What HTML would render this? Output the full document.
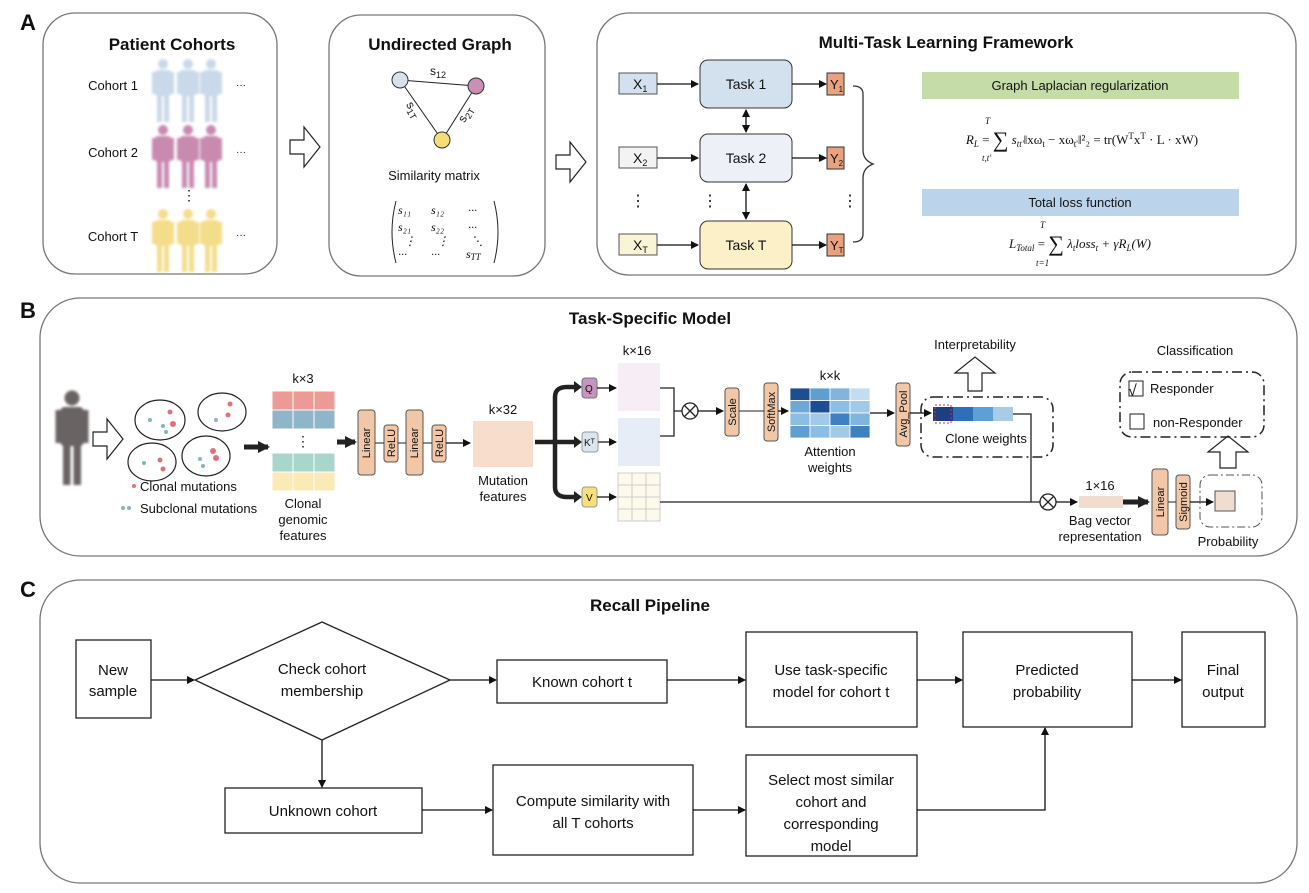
<!DOCTYPE html>
<html><head><meta charset="utf-8"><style>
body{margin:0;background:#fff}
svg{display:block;font-family:"Liberation Sans",sans-serif}
</style></head><body>
<svg width="1309" height="893" viewBox="0 0 1309 893" xmlns="http://www.w3.org/2000/svg">
<defs>
<marker id="ar" markerWidth="8" markerHeight="8" refX="7" refY="4" orient="auto" markerUnits="userSpaceOnUse"><path d="M0,0 L8,4 L0,8 z" fill="#111"/></marker>
<marker id="ar2" markerWidth="8" markerHeight="8" refX="1" refY="4" orient="auto" markerUnits="userSpaceOnUse"><path d="M8,0 L0,4 L8,8 z" fill="#111"/></marker>
<marker id="tk" markerWidth="14" markerHeight="14" refX="10" refY="7" orient="auto" markerUnits="userSpaceOnUse"><path d="M0,1 L12,7 L0,13 z" fill="#222"/></marker>
<filter id="bl"><feGaussianBlur stdDeviation="1.3"/></filter>
<g id="man"><circle cx="0" cy="-28" r="5"/><rect x="-8" y="-22" width="16" height="26" rx="3"/><rect x="-6" y="2" width="5" height="28"/><rect x="1" y="2" width="5" height="28"/><rect x="-11" y="-20" width="4" height="22"/><rect x="7" y="-20" width="4" height="22"/></g>
</defs>
<g font-size="13" fill="#111">
<!-- Panel A -->
<text x="20" y="30" font-size="22" font-weight="bold">A</text>
<rect x="43" y="13" width="234" height="261" rx="32" fill="none" stroke="#777" stroke-width="1.3"/>
<text x="172" y="50" font-size="17" font-weight="bold" text-anchor="middle">Patient Cohorts</text>
<text x="113" y="90" text-anchor="middle">Cohort 1</text>
<text x="113" y="157" text-anchor="middle">Cohort 2</text>
<text x="113" y="241" text-anchor="middle">Cohort T</text>
<g filter="url(#bl)">
<g fill="#c9d9ea"><use href="#man" x="163" y="92"/><use href="#man" x="188" y="92"/><use href="#man" x="211" y="92"/></g>
<g fill="#c98ab0"><use href="#man" x="163" y="158"/><use href="#man" x="188" y="158"/><use href="#man" x="211" y="158"/></g>
<g fill="#f4dd8a"><use href="#man" x="163" y="242"/><use href="#man" x="188" y="242"/><use href="#man" x="211" y="242"/></g>
</g>
<text x="236" y="88" font-size="10">···</text><text x="236" y="155" font-size="10">···</text><text x="236" y="238" font-size="10">···</text>
<text x="189" y="200" font-size="14" text-anchor="middle">⋮</text>
<path d="M290,140 h14 v-13 l16,20 l-16,20 v-13 h-14 z" fill="#fff" stroke="#222" stroke-width="1.2"/>
<rect x="329" y="15" width="216" height="261" rx="32" fill="none" stroke="#777" stroke-width="1.3"/>
<text x="440" y="50" font-size="17" font-weight="bold" text-anchor="middle">Undirected Graph</text>
<line x1="400" y1="80" x2="476" y2="86" stroke="#222"/><line x1="400" y1="80" x2="442" y2="140" stroke="#222"/><line x1="476" y1="86" x2="442" y2="140" stroke="#222"/>
<circle cx="400" cy="80" r="8" fill="#d8e2ee" stroke="#333"/><circle cx="476" cy="86" r="8" fill="#c790b4" stroke="#333"/><circle cx="442" cy="140" r="8" fill="#f6dc7a" stroke="#333"/>
<text x="430" y="75" font-size="12">s<tspan font-size="9" dy="3">12</tspan></text>
<text x="405" y="112" font-size="12" transform="rotate(60 412 109)">s<tspan font-size="9" dy="3">1T</tspan></text>
<text x="458" y="120" font-size="12" transform="rotate(-60 464 116)">s<tspan font-size="9" dy="3">2T</tspan></text>
<text x="434" y="180" text-anchor="middle">Similarity matrix</text>
<g font-family="Liberation Serif,serif" font-style="italic" font-size="12">
<text x="398" y="214">s₁₁</text><text x="431" y="214">s₁₂</text><text x="468" y="214">···</text>
<text x="398" y="231">s₂₁</text><text x="431" y="231">s₂₂</text><text x="468" y="231">···</text>
<text x="404" y="245">⋮</text><text x="437" y="245">⋮</text><text x="471" y="245">⋱</text>
<text x="398" y="258">···</text><text x="431" y="258">···</text><text x="466" y="258">s<tspan font-size="9" dy="2">TT</tspan></text>
</g>
<path d="M396,201 q-8,31 0,62 M494,201 q8,31 0,62" fill="none" stroke="#222"/>
<path d="M556,155 h14 v-13 l16,20 l-16,20 v-13 h-14 z" fill="#fff" stroke="#222" stroke-width="1.2"/>
<rect x="597" y="13" width="699" height="262" rx="32" fill="none" stroke="#777" stroke-width="1.3"/>
<text x="946" y="48" font-size="17" font-weight="bold" text-anchor="middle">Multi-Task Learning Framework</text>
<rect x="619" y="73" width="38" height="21" fill="#d2e0f0" stroke="#555"/><text x="633" y="89" font-size="14">X<tspan font-size="9" dy="3">1</tspan></text>
<rect x="619" y="147" width="38" height="21" fill="#f3f3f3" stroke="#555"/><text x="633" y="163" font-size="14">X<tspan font-size="9" dy="3">2</tspan></text>
<rect x="619" y="234" width="38" height="21" fill="#fbf3d5" stroke="#555"/><text x="633" y="250" font-size="14">X<tspan font-size="9" dy="3">T</tspan></text>
<rect x="700" y="60" width="92" height="48" rx="8" fill="#d3e1ef" stroke="#333"/><text x="746" y="89" text-anchor="middle" font-size="14">Task 1</text>
<rect x="700" y="134" width="92" height="48" rx="8" fill="#eef0f8" stroke="#333"/><text x="746" y="163" text-anchor="middle" font-size="14">Task 2</text>
<rect x="700" y="221" width="92" height="48" rx="8" fill="#fbf0c8" stroke="#333"/><text x="746" y="250" text-anchor="middle" font-size="14">Task T</text>
<g stroke="#111" stroke-width="1.3" marker-end="url(#ar)">
<line x1="657" y1="84" x2="698" y2="84"/><line x1="657" y1="158" x2="698" y2="158"/><line x1="657" y1="245" x2="698" y2="245"/>
<line x1="792" y1="84" x2="826" y2="84"/><line x1="792" y1="158" x2="826" y2="158"/><line x1="792" y1="245" x2="826" y2="245"/>
<line x1="746" y1="110" x2="746" y2="132" marker-start="url(#ar2)"/><line x1="746" y1="184" x2="746" y2="219" marker-start="url(#ar2)"/>
</g>
<g fill="#e9a27f" stroke="#333"><rect x="827" y="73" width="17" height="22"/><rect x="827" y="147" width="17" height="22"/><rect x="827" y="234" width="17" height="22"/></g>
<text x="830" y="89" font-size="13">Y<tspan font-size="8" dy="3">1</tspan></text><text x="830" y="163" font-size="13">Y<tspan font-size="8" dy="3">2</tspan></text><text x="830" y="250" font-size="13">Y<tspan font-size="8" dy="3">T</tspan></text>
<text x="638" y="206" font-size="16" text-anchor="middle">⋮</text><text x="710" y="206" font-size="16" text-anchor="middle">⋮</text><text x="850" y="206" font-size="16" text-anchor="middle">⋮</text>
<path d="M853,86 q10,0 10,8 v56 q0,10 10,14 q-10,4 -10,14 v56 q0,8 -10,8" fill="none" stroke="#333" stroke-width="1.3"/>
<rect x="922" y="72" width="317" height="27" fill="#c6dca8"/><text x="1080" y="90" text-anchor="middle">Graph Laplacian regularization</text>
<rect x="922" y="189" width="317" height="27" fill="#bcd3ec"/><text x="1080" y="207" text-anchor="middle">Total loss function</text>
<g font-family="Liberation Serif,serif" font-size="13">
<text x="1082" y="144" text-anchor="middle"><tspan font-style="italic">R<tspan font-size="9" dy="3">L</tspan></tspan><tspan dy="-3"> = </tspan><tspan font-size="22" dy="3">∑</tspan><tspan font-style="italic" dy="-3"> s<tspan font-size="9" dy="3">tt'</tspan></tspan><tspan dy="-3">‖xω<tspan font-size="9" dy="3">t</tspan></tspan><tspan dy="-3"> − xω<tspan font-size="9" dy="3">t'</tspan></tspan><tspan dy="-3">‖²₂ = tr(W<tspan font-size="9" dy="-5">T</tspan></tspan><tspan dy="5">x<tspan font-size="9" dy="-5">T</tspan></tspan><tspan dy="5"> · L · xW)</tspan></text>
<text x="985" y="124" font-size="9" font-style="italic">T</text><text x="982" y="161" font-size="9" font-style="italic">t,t'</text>
<text x="1080" y="248" text-anchor="middle" font-style="italic">L<tspan font-size="9" dy="3">Total</tspan><tspan dy="-3" font-style="normal"> = </tspan><tspan font-size="22" dy="3" font-style="normal">∑</tspan><tspan dy="-3"> λ<tspan font-size="9" dy="3">t</tspan></tspan><tspan dy="-3">loss<tspan font-size="9" dy="3">t</tspan></tspan><tspan dy="-3"> + γR<tspan font-size="9" dy="3">L</tspan></tspan><tspan dy="-3">(W)</tspan></text>
<text x="1040" y="228" font-size="9" font-style="italic">T</text><text x="1036" y="266" font-size="9" font-style="italic">t=1</text>
</g>

<!-- Panel B -->
<text x="20" y="318" font-size="22" font-weight="bold">B</text>
<rect x="40" y="298" width="1257" height="258" rx="40" fill="none" stroke="#777" stroke-width="1.3"/>
<text x="650" y="324" font-size="17" font-weight="bold" text-anchor="middle">Task-Specific Model</text>
<g fill="#6b6464" filter="url(#bl)"><use href="#man" x="72" y="440" transform="translate(-36,-220) scale(1.5)"/></g>
<path d="M93,432 h14 v-13 l16,20 l-16,20 v-13 h-14 z" fill="#fff" stroke="#222" stroke-width="1.2"/>
<g fill="none" stroke="#222" stroke-width="1.2"><ellipse cx="160" cy="420" rx="25" ry="20"/><ellipse cx="222" cy="412" rx="24" ry="19"/><ellipse cx="152" cy="462" rx="24" ry="19"/><ellipse cx="206" cy="456" rx="24" ry="20"/></g>
<g fill="#e0707a"><circle cx="170" cy="412" r="2.5"/><circle cx="173" cy="424" r="3"/><circle cx="230" cy="404" r="2.5"/><circle cx="228" cy="415" r="2.5"/><circle cx="160" cy="460" r="2.5"/><circle cx="163" cy="469" r="2.5"/><circle cx="213" cy="451" r="3"/><circle cx="216" cy="458" r="3"/></g>
<g fill="#7fb8bb"><circle cx="150" cy="420" r="2"/><circle cx="163" cy="426" r="2"/><circle cx="166" cy="432" r="2"/><circle cx="216" cy="420" r="2"/><circle cx="144" cy="463" r="2"/><circle cx="200" cy="459" r="2"/><circle cx="203" cy="466" r="2"/></g>
<circle cx="134" cy="486" r="2" fill="#e0707a"/><text x="140" y="491">Clonal mutations</text>
<circle cx="123" cy="508" r="2" fill="#7fb8bb"/><circle cx="129" cy="508" r="2" fill="#7fb8bb"/><text x="140" y="513">Subclonal mutations</text>
<line x1="244" y1="447" x2="268" y2="447" stroke="#222" stroke-width="5" marker-end="url(#tk)"/>
<text x="303" y="383" text-anchor="middle">k×3</text>
<g stroke="#fff"><rect x="272" y="391" width="63" height="19" fill="#ec9a95"/><rect x="272" y="410" width="63" height="19" fill="#8fb5c9"/><rect x="272" y="453" width="63" height="19" fill="#a8d6cc"/><rect x="272" y="472" width="63" height="19" fill="#fbe9b6"/>
<line x1="293" y1="391" x2="293" y2="491"/><line x1="314" y1="391" x2="314" y2="491"/></g>
<text x="303" y="446" font-size="14" text-anchor="middle">⋮</text>
<text x="303" y="508" text-anchor="middle">Clonal</text><text x="303" y="524" text-anchor="middle">genomic</text><text x="303" y="540" text-anchor="middle">features</text>
<line x1="337" y1="442" x2="355" y2="442" stroke="#222" stroke-width="5" marker-end="url(#tk)"/>
<g fill="#f2c7a8" stroke="#555"><rect x="358" y="410" width="17" height="65" rx="3"/><rect x="384" y="425" width="14" height="37" rx="3"/><rect x="406" y="410" width="17" height="65" rx="3"/><rect x="432" y="425" width="14" height="37" rx="3"/></g>
<g stroke="#222"><line x1="375" y1="443" x2="384" y2="443"/><line x1="398" y1="443" x2="406" y2="443"/><line x1="423" y1="443" x2="432" y2="443"/></g>
<g font-size="11" text-anchor="middle"><text transform="translate(370,443) rotate(-90)">Linear</text><text transform="translate(395,443) rotate(-90)">ReLU</text><text transform="translate(418,443) rotate(-90)">Linear</text><text transform="translate(443,443) rotate(-90)">ReLU</text></g>
<line x1="446" y1="443" x2="470" y2="443" stroke="#111" stroke-width="1.3" marker-end="url(#ar)"/>
<text x="503" y="414" text-anchor="middle">k×32</text>
<rect x="473" y="421" width="60" height="46" fill="#f8dccc"/>
<text x="503" y="485" text-anchor="middle">Mutation</text><text x="503" y="501" text-anchor="middle">features</text>
<path d="M535,442 h20 M555,442 v-45 q0,-10 12,-10 h8 M555,442 h20 M555,442 v45 q0,10 12,10 h8" fill="none" stroke="#222" stroke-width="4.5"/>
<path d="M574,381 l8,6 l-8,6z M574,436 l8,6 l-8,6z M574,491 l8,6 l-8,6z" fill="#222"/>
<rect x="582" y="378" width="15" height="20" rx="3" fill="#c794c0" stroke="#777"/><text x="585" y="392" font-size="10">Q</text>
<rect x="582" y="432" width="16" height="20" rx="3" fill="#dbe5f0" stroke="#999"/><text x="584" y="446" font-size="10">Kᵀ</text>
<rect x="582" y="487" width="15" height="20" rx="3" fill="#f8df7a" stroke="#999"/><text x="586" y="501" font-size="10">V</text>
<g stroke="#111" stroke-width="1.3" marker-end="url(#ar)"><line x1="597" y1="388" x2="616" y2="388"/><line x1="598" y1="442" x2="616" y2="442"/><line x1="597" y1="497" x2="616" y2="497"/></g>
<text x="637" y="355" text-anchor="middle">k×16</text>
<rect x="618" y="363" width="42" height="48" fill="#f6eef4"/>
<rect x="618" y="418" width="42" height="48" fill="#e6edf6"/>
<g fill="#fdfaeb" stroke="#ccc"><rect x="618" y="473" width="42" height="48"/><line x1="632" y1="473" x2="632" y2="521"/><line x1="646" y1="473" x2="646" y2="521"/><line x1="618" y1="485" x2="660" y2="485"/><line x1="618" y1="497" x2="660" y2="497"/><line x1="618" y1="509" x2="660" y2="509"/></g>
<path d="M660,388 h14 v48 h-14 M674,411 h8" fill="none" stroke="#222" stroke-width="1.3"/>
<circle cx="690" cy="411" r="8" fill="#fff" stroke="#222" stroke-width="1.3"/><path d="M684.5,405.5 l11,11 M695.5,405.5 l-11,11" stroke="#222" stroke-width="1.3"/>
<line x1="698" y1="411" x2="723" y2="411" stroke="#111" stroke-width="1.3" marker-end="url(#ar)"/>
<g fill="#f2c7a8" stroke="#555"><rect x="725" y="388" width="14" height="48" rx="3"/><rect x="764" y="383" width="14" height="58" rx="3"/></g>
<g font-size="11" text-anchor="middle"><text transform="translate(736,412) rotate(-90)">Scale</text><text transform="translate(775,412) rotate(-90)">SoftMax</text></g>
<line x1="739" y1="411" x2="764" y2="411" stroke="#222"/>
<line x1="778" y1="411" x2="788" y2="411" stroke="#111" stroke-width="1.3" marker-end="url(#ar)"/>
<text x="830" y="380" text-anchor="middle">k×k</text>
<g stroke="#fff" stroke-width="0.8">
<rect x="790" y="388" width="20" height="12.5" fill="#1d4e8f"/><rect x="810" y="388" width="20" height="12.5" fill="#5f9fd0"/><rect x="830" y="388" width="20" height="12.5" fill="#82b5dd"/><rect x="850" y="388" width="20" height="12.5" fill="#c4dcef"/>
<rect x="790" y="400.5" width="20" height="12.5" fill="#6fa8d6"/><rect x="810" y="400.5" width="20" height="12.5" fill="#1d4e8f"/><rect x="830" y="400.5" width="20" height="12.5" fill="#8cbde2"/><rect x="850" y="400.5" width="20" height="12.5" fill="#a3c9e8"/>
<rect x="790" y="413" width="20" height="12.5" fill="#8cbde2"/><rect x="810" y="413" width="20" height="12.5" fill="#a3c9e8"/><rect x="830" y="413" width="20" height="12.5" fill="#3f80c0"/><rect x="850" y="413" width="20" height="12.5" fill="#82b5dd"/>
<rect x="790" y="425.5" width="20" height="12.5" fill="#5f9fd0"/><rect x="810" y="425.5" width="20" height="12.5" fill="#8cbde2"/><rect x="830" y="425.5" width="20" height="12.5" fill="#a3c9e8"/><rect x="850" y="425.5" width="20" height="12.5" fill="#3f80c0"/>
</g>
<text x="830" y="456" text-anchor="middle">Attention</text><text x="830" y="472" text-anchor="middle">weights</text>
<line x1="870" y1="413" x2="894" y2="413" stroke="#111" stroke-width="1.3" marker-end="url(#ar)"/>
<rect x="896" y="383" width="14" height="63" rx="3" fill="#f2c7a8" stroke="#555"/><text transform="translate(907,414) rotate(-90)" font-size="11" text-anchor="middle">Avg_Pool</text>
<line x1="910" y1="413" x2="931" y2="413" stroke="#111" stroke-width="1.3" marker-end="url(#ar)"/>
<rect x="921" y="397" width="132" height="60" rx="12" fill="none" stroke="#222" stroke-width="1.5" stroke-dasharray="10,4,2,4"/>
<rect x="933" y="407" width="20" height="14" fill="#1d3f80"/><rect x="953" y="407" width="20" height="14" fill="#2f6fb8"/><rect x="973" y="407" width="20" height="14" fill="#5ea0d6"/><rect x="993" y="407" width="20" height="14" fill="#a8cbe8"/>
<rect x="935" y="405" width="16" height="18" fill="none" stroke="#d03050" stroke-dasharray="2,2"/>
<text x="986" y="443" text-anchor="middle">Clone weights</text>
<text x="975" y="349" text-anchor="middle">Interpretability</text>
<path d="M968,391 v-18 h-13 l20,-16 l20,16 h-13 v18 z" fill="#fff" stroke="#222" stroke-width="1.2"/>
<path d="M1013,414 h18 v88 M660,502 h380" fill="none" stroke="#222" stroke-width="1.3"/>
<circle cx="1048" cy="502" r="8" fill="#fff" stroke="#222" stroke-width="1.3"/><path d="M1042.5,496.5 l11,11 M1053.5,496.5 l-11,11" stroke="#222" stroke-width="1.3"/>
<line x1="1056" y1="502" x2="1077" y2="502" stroke="#111" stroke-width="1.3" marker-end="url(#ar)"/>
<text x="1100" y="490" text-anchor="middle">1×16</text>
<rect x="1079" y="496" width="44" height="12" fill="#f1ddd0"/>
<line x1="1123" y1="502" x2="1148" y2="502" stroke="#222" stroke-width="5" marker-end="url(#tk)"/>
<text x="1100" y="525" text-anchor="middle">Bag vector</text><text x="1100" y="541" text-anchor="middle">representation</text>
<g fill="#f2c7a8" stroke="#555"><rect x="1152" y="469" width="16" height="66" rx="3"/><rect x="1176" y="475" width="14" height="54" rx="3"/></g>
<g font-size="11" text-anchor="middle"><text transform="translate(1164,502) rotate(-90)">Linear</text><text transform="translate(1187,502) rotate(-90)">Sigmoid</text></g>
<line x1="1168" y1="502" x2="1176" y2="502" stroke="#222"/>
<line x1="1190" y1="502" x2="1213" y2="502" stroke="#111" stroke-width="1.3" marker-end="url(#ar)"/>
<rect x="1200" y="475" width="62" height="52" rx="10" fill="none" stroke="#555" stroke-dasharray="8,3,2,3"/>
<rect x="1215" y="491" width="20" height="20" fill="#f1ddd0" stroke="#555"/>
<text x="1228" y="546" text-anchor="middle">Probability</text>
<path d="M1220,468 v-16 h-12 l20,-16 l20,16 h-12 v16 z" fill="#fff" stroke="#222" stroke-width="1.2"/>
<text x="1195" y="355" text-anchor="middle">Classification</text>
<rect x="1120" y="372" width="144" height="65" rx="12" fill="none" stroke="#222" stroke-width="1.5" stroke-dasharray="10,4,2,4"/>
<rect x="1129" y="381" width="14" height="15" fill="none" stroke="#222"/><text x="1128" y="396" font-size="16">√</text><text x="1150" y="393">Responder</text>
<rect x="1130" y="414" width="14" height="15" fill="none" stroke="#222"/><text x="1153" y="427">non-Responder</text>

<!-- Panel C -->
<text x="20" y="597" font-size="22" font-weight="bold">C</text>
<rect x="40" y="580" width="1257" height="303" rx="40" fill="none" stroke="#777" stroke-width="1.3"/>
<text x="650" y="611" font-size="17" font-weight="bold" text-anchor="middle">Recall Pipeline</text>
<g fill="#fff" stroke="#222" stroke-width="1.3">
<rect x="76" y="640" width="75" height="78"/>
<path d="M195,680 L322,622 L450,680 L322,740 z"/>
<rect x="497" y="660" width="170" height="43"/>
<rect x="746" y="632" width="171" height="95"/>
<rect x="963" y="632" width="169" height="95"/>
<rect x="1182" y="632" width="83" height="95"/>
<rect x="225" y="788" width="197" height="45"/>
<rect x="493" y="765" width="200" height="90"/>
<rect x="746" y="755" width="171" height="101"/>
</g>
<g font-size="15" text-anchor="middle">
<text x="113" y="675">New</text><text x="113" y="696">sample</text>
<text x="322" y="674">Check cohort</text><text x="322" y="696">membership</text>
<text x="582" y="687">Known cohort t</text>
<text x="831" y="675">Use task-specific</text><text x="831" y="697">model for cohort t</text>
<text x="1047" y="675">Predicted</text><text x="1047" y="697">probability</text>
<text x="1223" y="675">Final</text><text x="1223" y="697">output</text>
<text x="323" y="816">Unknown cohort</text>
<text x="593" y="806">Compute similarity with</text><text x="593" y="828">all T cohorts</text>
<text x="831" y="785">Select most similar</text><text x="831" y="807">cohort and</text><text x="831" y="829">corresponding</text><text x="831" y="851">model</text>
</g>
<g stroke="#111" stroke-width="1.3" fill="none" marker-end="url(#ar)">
<line x1="151" y1="680" x2="194" y2="680"/><line x1="450" y1="680" x2="496" y2="680"/><line x1="667" y1="680" x2="745" y2="680"/>
<line x1="917" y1="680" x2="962" y2="680"/><line x1="1132" y1="680" x2="1181" y2="680"/>
<line x1="322" y1="740" x2="322" y2="787"/><line x1="422" y1="810" x2="492" y2="810"/><line x1="693" y1="810" x2="745" y2="810"/>
<path d="M917,810 H1045 V728"/>
</g>
</g>
</svg>
</body></html>
